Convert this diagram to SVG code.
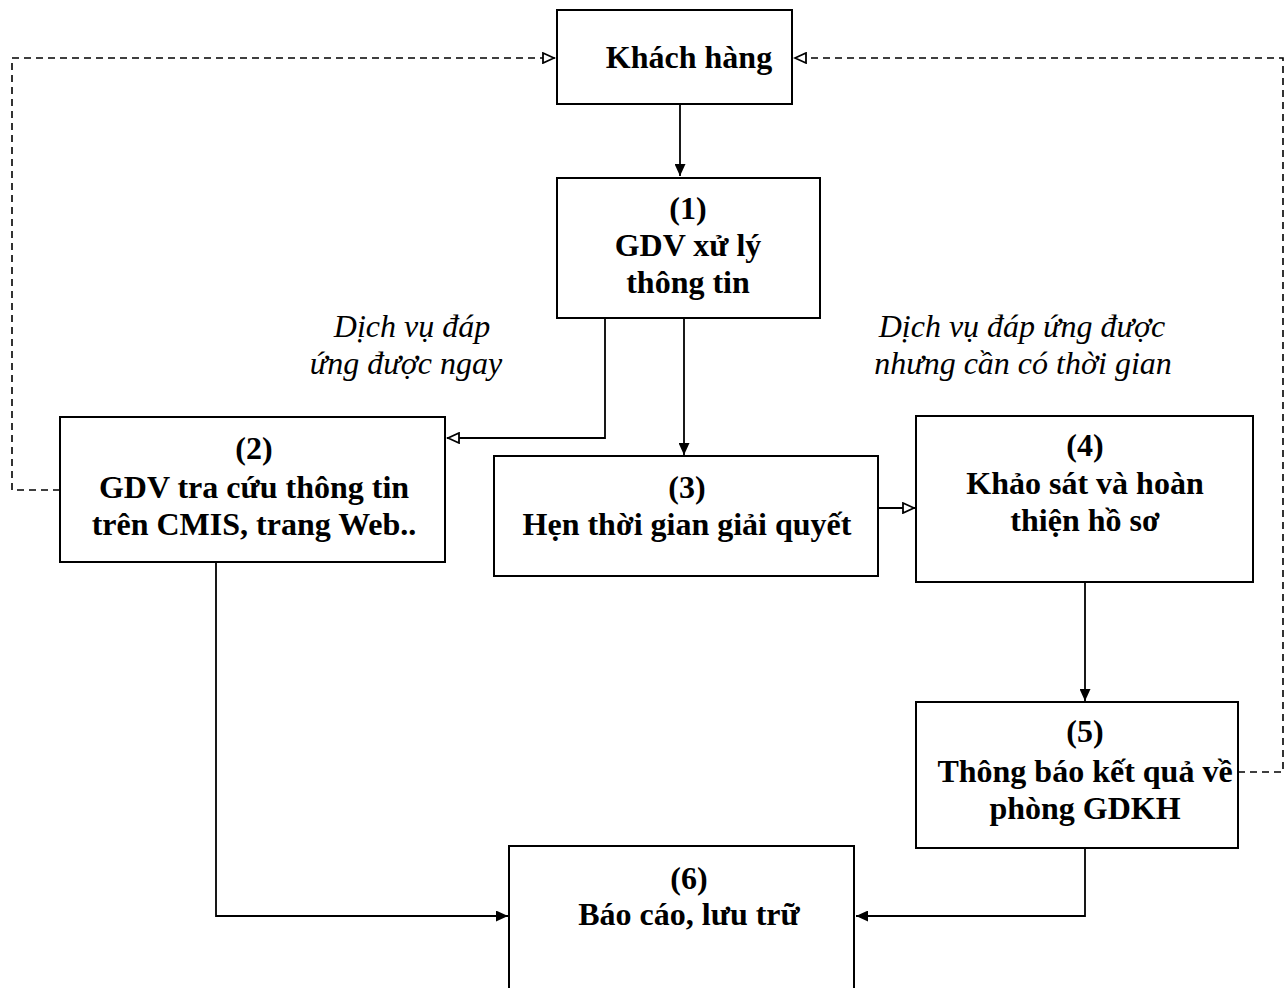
<svg xmlns="http://www.w3.org/2000/svg" width="1284" height="988" viewBox="0 0 1284 988">
<defs>
<style>
.box{fill:#fff;stroke:#000;stroke-width:2}
.t{font-weight:bold;font-size:32px;fill:#000;text-anchor:middle}
.lbl{font-style:italic;font-size:32px;fill:#000;text-anchor:middle}
.c{fill:none;stroke:#000;stroke-width:1.8}
.d{fill:none;stroke:#000;stroke-width:1.6;stroke-dasharray:7,5}
</style>
<marker id="af" markerWidth="13" markerHeight="11" refX="12" refY="5.5" orient="auto" markerUnits="userSpaceOnUse">
<path d="M0,0 L12,5.5 L0,11 Z" fill="#000"/>
</marker>
<marker id="ao" markerWidth="14" markerHeight="12" refX="13" refY="6" orient="auto" markerUnits="userSpaceOnUse">
<path d="M1,1 L12,6 L1,11 Z" fill="#fff" stroke="#000" stroke-width="1.8"/>
</marker>
</defs>
<rect width="1284" height="988" fill="#fff"/>

<g id="connectors">
<path class="c" d="M680,104 V176" stroke-width="2.8" marker-end="url(#af)"/>
<path class="c" d="M605,318 V438 H447" marker-end="url(#ao)"/>
<path class="c" d="M684,318 V455" marker-end="url(#af)"/>
<path class="c" d="M878,508 H915" stroke-width="2.4" marker-end="url(#ao)"/>
<path class="c" d="M1085,582 V701" marker-end="url(#af)"/>
<path class="c" d="M1085,848 V916 H856" marker-end="url(#af)"/>
<path class="c" d="M216,562 V916 H508" marker-end="url(#af)"/>
<path class="d" d="M60,490 H12 V58 H555" marker-end="url(#ao)"/>
<path class="d" d="M1238,772 H1283 V58 H794" marker-end="url(#ao)"/>
</g>

<g font-family="Liberation Serif, DejaVu Serif, serif">
<g id="n0">
<rect class="box" x="557" y="10" width="235" height="94"/>
<text class="t" x="689" y="68">Khách hàng</text>
</g>
<g id="n1">
<rect class="box" x="557" y="178" width="263" height="140"/>
<text class="t" x="688" y="219">(1)</text>
<text class="t" x="688" y="256">GDV xử lý</text>
<text class="t" x="688" y="293">thông tin</text>
</g>
<g id="n2">
<rect class="box" x="60" y="417" width="385" height="145"/>
<text class="t" x="254" y="459">(2)</text>
<text class="t" x="254" y="498">GDV tra cứu thông tin</text>
<text class="t" x="254" y="535">trên CMIS, trang Web..</text>
</g>
<g id="n3">
<rect class="box" x="494" y="456" width="384" height="120"/>
<text class="t" x="687" y="498">(3)</text>
<text class="t" x="687" y="535">Hẹn thời gian giải quyết</text>
</g>
<g id="n4">
<rect class="box" x="916" y="416" width="337" height="166"/>
<text class="t" x="1085" y="456">(4)</text>
<text class="t" x="1085" y="494">Khảo sát và hoàn</text>
<text class="t" x="1085" y="531">thiện hồ sơ</text>
</g>
<g id="n5">
<rect class="box" x="916" y="702" width="322" height="146"/>
<text class="t" x="1085" y="742">(5)</text>
<text class="t" x="1085" y="782">Thông báo kết quả về</text>
<text class="t" x="1085" y="819">phòng GDKH</text>
</g>
<g id="n6">
<rect class="box" x="509" y="846" width="345" height="160"/>
<text class="t" x="689" y="889">(6)</text>
<text class="t" x="689" y="925">Báo cáo, lưu trữ</text>
</g>

<g id="labels">
<text class="lbl" x="412" y="337">Dịch vụ đáp</text>
<text class="lbl" x="406" y="374">ứng được ngay</text>
<text class="lbl" x="1022" y="337">Dịch vụ đáp ứng được</text>
<text class="lbl" x="1023" y="374">nhưng cần có thời gian</text>
</g>
</g>
</svg>
